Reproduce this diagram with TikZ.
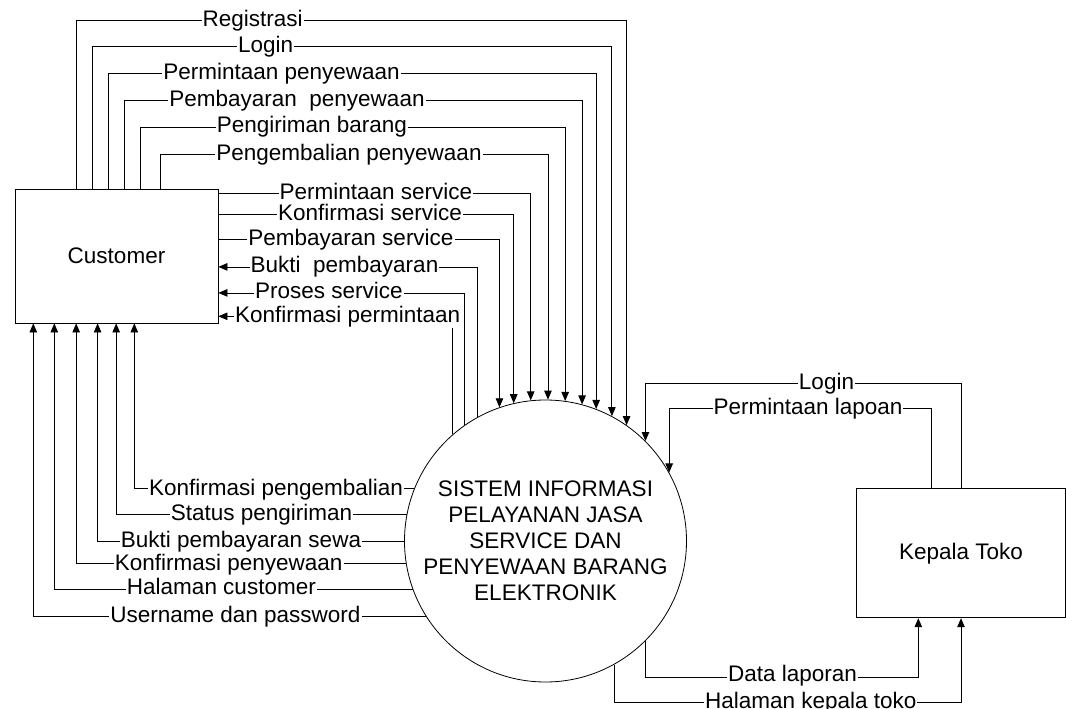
\documentclass[tikz,border=0pt]{standalone}
\usepackage{fontspec}
\setmainfont{Liberation Sans}
\usetikzlibrary{arrows.meta}
\begin{document}
\begin{tikzpicture}[x=1pt, y=-1pt, >={Triangle[length=9pt,width=7.5pt]}, line width=.8pt,
    lbl/.style={fill=white, inner sep=1pt, text height=16pt, text depth=5pt, font=\fontsize{22.5}{26}\selectfont},
    entity/.style={draw, inner sep=0pt, font=\fontsize{22.5}{26}\selectfont}]
\useasboundingbox (0,0) rectangle (1066,709);
\node[entity, minimum width=203, minimum height=134] (cust) at (116.5,256) {Customer};
\node[entity, minimum width=209, minimum height=129] (kep) at (961,553.3) {Kepala Toko};
\node[entity, circle, fill=white, minimum size=282, align=center] (sys) at (545.5,541)
    {SISTEM INFORMASI\\PELAYANAN JASA\\SERVICE DAN\\PENYEWAAN BARANG\\ELEKTRONIK};
% customer ke sistem
\foreach \px/\hh/\an in {61.6/168.3/55.68, 77.6/141.7/62.78, 94/115/69.01, 110/88.3/75.42, 126/61.7/82.67, 146/34/89.80}
{
    \draw[->]([xshift=\px]cust.north west)--++(0,-\hh)-|(sys.\an);
}
\foreach \vy/\an in {5/96.51, 26/103.33, 51/109.90}
{
    \draw[->]([yshift=-\vy]cust.north east)-|(sys.\an);
}
% sistem ke customer
\foreach \vy/\an in {78.3/119.07, 104.3/125.81, 127.7/131.76}
{
    \draw[->](sys.\an)|-([yshift=-\vy]cust.north east);
}
\foreach \px/\an in {119.7/158.8, 101.6/169.37, 83/180.28, 61.6/189.80, 39.7/200.03, 18.7/212.47}
{
    \draw[->](sys.\an)-|([xshift=\px]cust.south west);
}
% kepala toko
\draw[->](kep.north)--++(0,-104.7)-|(sys.45.52);
\draw[->]([xshift=-29.3]kep.north)--++(0,-80)-|(sys.29.43);
\draw[->](sys.-45.52)--++(0,36)-|([xshift=-42.7]kep.south);
\draw[->](sys.-61.26)--++(0,38)-|(kep.south);
% label aliran
\foreach \lx/\ly/\txt [count=\i] in {252.7/20.7/Registrasi, 265.6/47.3/Login, 281.6/74/Permintaan penyewaan,
    297/100.7/Pembayaran~~penyewaan, 312/127.3/Pengiriman barang, 349/155/Pengembalian penyewaan,
    376/194/Permintaan service, 370/215/Konfirmasi service, 351/240/Pembayaran service,
    344.5/267.3/Bukti~~pembayaran, 329/293.3/Proses service, 347.6/316.7/Konfirmasi permintaan,
    276/490/Konfirmasi pengembalian, 261.6/515/Status pengiriman, 241/541.7/Bukti pembayaran sewa,
    228.7/565/Konfirmasi penyewaan, 221.4/589.3/Halaman customer, 235.5/616.7/Username dan password,
    826.5/384.3/Login, 808/409/Permintaan lapoan, 792.5/676/Data laporan, 810.8/702.7/Halaman kepala toko}
{
    \node[lbl] (l\i) at (\lx,\ly) {\txt};
}
\end{tikzpicture}
\end{document}
